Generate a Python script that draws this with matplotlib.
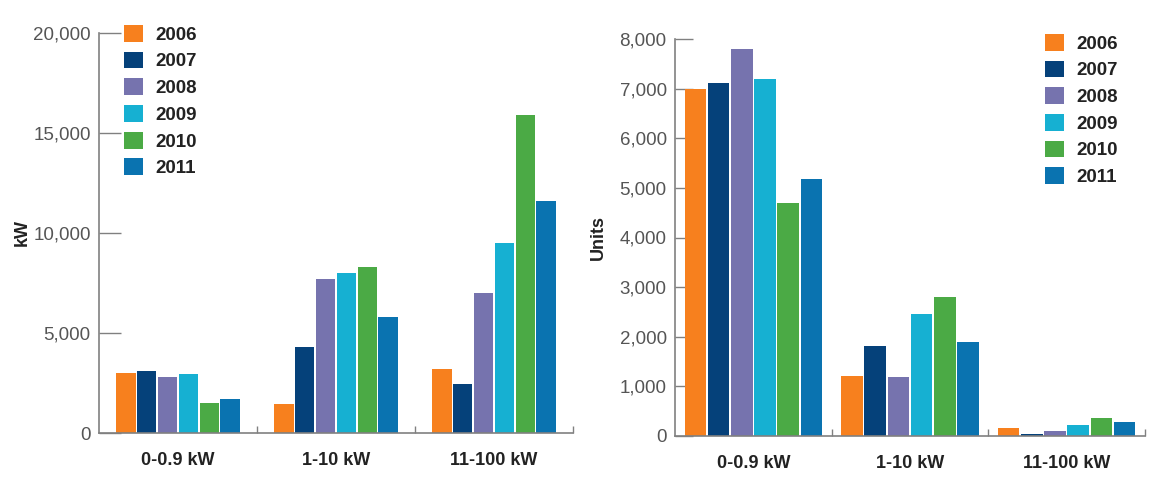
import matplotlib
matplotlib.use("Agg")
import matplotlib.pyplot as plt
from matplotlib.patches import Patch
import numpy as np

plt.rcParams['font.family'] = ['Liberation Sans', 'DejaVu Sans']

categories = ["0-0.9 kW", "1-10 kW", "11-100 kW"]
years = ["2006", "2007", "2008", "2009", "2010", "2011"]
colors = ["#F7801E", "#05417A", "#7673AE", "#16B0D2", "#4BAA45", "#0A73B0"]

# Left chart: capacity (kW)
kw_values = {
    "2006": [3000, 1450, 3200],
    "2007": [3100, 4300, 2450],
    "2008": [2800, 7700, 7000],
    "2009": [2950, 8000, 9500],
    "2010": [1500, 8300, 15900],
    "2011": [1700, 5800, 11600],
}
# Right chart: units
unit_values = {
    "2006": [7000, 1215, 155],
    "2007": [7120, 1815, 40],
    "2008": [7800, 1180, 100],
    "2009": [7200, 2450, 215],
    "2010": [4700, 2800, 357],
    "2011": [5180, 1900, 276],
}
kw_ticks = [0, 5000, 10000, 15000, 20000]
unit_ticks = [0, 1000, 2000, 3000, 4000, 5000, 6000, 7000, 8000]

W, H = 1160, 482
fig = plt.figure(figsize=(W / 100, H / 100), dpi=100)

def px_axes(x0, y0, x1, y1):
    return fig.add_axes([x0 / W, 1 - y1 / H, (x1 - x0) / W, (y1 - y0) / H])

def draw(ax, data, ticks, ylabel, barw, ytick_len, legend_anchor):
    n = len(years)
    centers = np.arange(len(categories)) + 0.5
    for i, y in enumerate(years):
        pos = centers + (i - (n - 1) / 2) * barw
        ax.bar(pos, data[y], width=barw * 0.93, color=colors[i], linewidth=0,
               zorder=2)
    ax.set_xlim(0, len(categories))
    ax.set_ylim(ticks[0], ticks[-1])
    ax.set_yticks(ticks)
    ax.set_yticklabels([f"{t:,}" for t in ticks])
    ax.tick_params(axis="y", direction="in", length=ytick_len, width=1,
                   color="#808080", labelsize=13.5, labelcolor="#555555", pad=6)
    ax.set_xticks([1, 2, 3])
    ax.set_xticklabels([])
    ax.tick_params(axis="x", which="major", direction="in", length=5, width=1,
                   color="#808080")
    ax.set_xticks(centers, minor=True)
    ax.set_xticklabels(categories, minor=True, fontsize=13, fontweight="bold",
                       color="#222222")
    ax.tick_params(axis="x", which="minor", length=0, pad=14)
    for s in ["top", "right"]:
        ax.spines[s].set_visible(False)
    for s in ["left", "bottom"]:
        ax.spines[s].set_color("#808080")
        ax.spines[s].set_linewidth(1.2)
    ax.set_ylabel(ylabel, fontsize=13, fontweight="bold", color="#222222")
    handles = [Patch(facecolor=c, edgecolor="none") for c in colors]
    leg = ax.legend(handles, years, loc="upper left", bbox_to_anchor=legend_anchor,
                    frameon=False, fontsize=13.5, handlelength=1.0, handleheight=1.0,
                    handletextpad=0.65, labelspacing=0.42, borderpad=0, borderaxespad=0)
    for t in leg.get_texts():
        t.set_fontweight("bold")
        t.set_color("#222222")

ax1 = px_axes(99, 33, 573, 433)
draw(ax1, kw_values, kw_ticks, "kW", 0.132, 16, (25 / 474, 1.02))
ax1.yaxis.set_label_coords(-0.145, 0.5)

ax2 = px_axes(675, 39, 1145, 436)
draw(ax2, unit_values, unit_ticks, "Units", 0.148, 13, (370 / 470, 1.013))
ax2.yaxis.set_label_coords(-0.144, 0.5)

fig.savefig("out.png", dpi=100)
